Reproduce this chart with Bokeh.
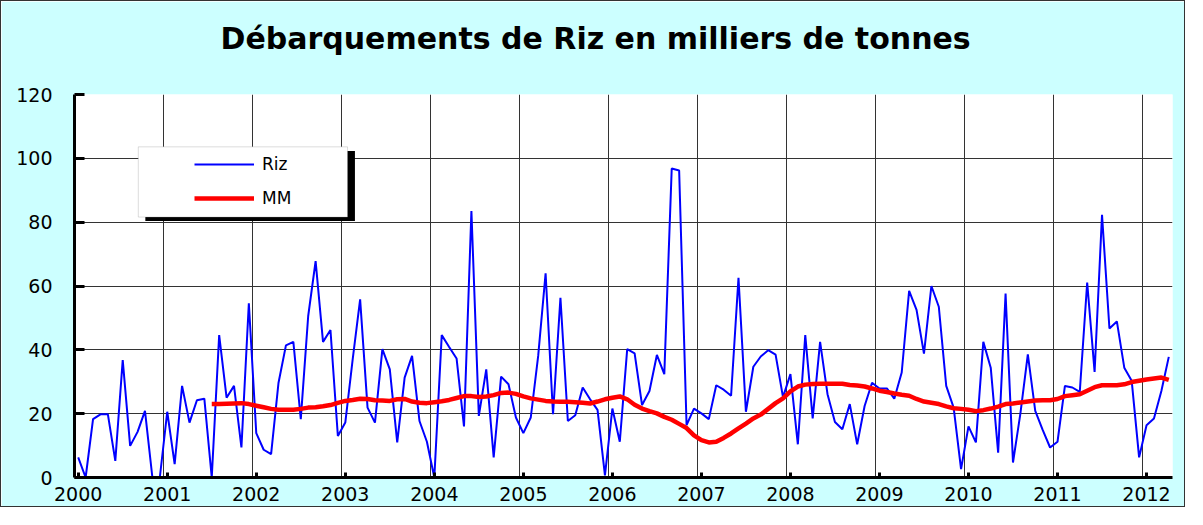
from bokeh.plotting import figure
from bokeh.models import FixedTicker, BoxAnnotation, Legend, LegendItem, Range1d, Title
from bokeh.embed import file_html
from bokeh.resources import INLINE

title_text = "Débarquements de Riz en milliers de tonnes"

years = ["2000", "2001", "2002", "2003", "2004", "2005", "2006",
         "2007", "2008", "2009", "2010", "2011", "2012"]

riz = [
    6.3, 0, 18.3, 19.8, 19.8, 5.2, 36.8, 9.9, 14.3, 20.9, 0, 0,
    20.6, 4.2, 28.7, 17.2, 24.2, 24.7, 0, 44.6, 25.0, 28.7, 9.4, 54.6,
    13.9, 8.7, 7.3, 29.7, 41.4, 42.5, 18.3, 50.6, 67.8, 42.5, 46.2, 13.0,
    17.2, 37.1, 55.8, 21.9, 17.2, 40.2, 33.9, 11.0, 31.3, 38.1, 17.7, 11.2,
    0, 44.6, 40.9, 37.3, 16.0, 83.5, 19.3, 33.9, 6.3, 31.6, 29.2, 18.8,
    13.9, 18.8, 38.1, 64.0, 19.8, 56.3, 17.7, 19.5, 28.2, 24.5, 21.2, 0.7,
    21.6, 11.2, 40.2, 38.9, 22.7, 27.1, 38.4, 32.4, 96.8, 96.2, 16.4, 21.6,
    20.1, 18.3, 28.9, 27.5, 25.6, 62.6, 20.6, 34.7, 37.9, 39.9, 38.5, 25.2,
    32.4, 10.4, 44.6, 18.5, 42.5, 26.1, 17.4, 15.1, 23.0, 10.4, 22.4, 29.7,
    27.9, 27.9, 24.7, 32.9, 58.5, 52.5, 38.8, 60.0, 53.5, 28.7, 21.9, 2.6,
    16.0, 11.0, 42.5, 34.4, 7.8, 57.6, 4.7, 20.1, 38.6, 20.9, 14.9, 9.4,
    11.2, 28.7, 28.2, 26.8, 61.1, 33.1, 82.3, 46.7, 48.9, 34.4, 30.3, 6.3,
    16.4, 18.5, 27.1, 37.8,
]

mm_start = 18
mm = [
    23.0, 23.0, 23.1, 23.2, 23.3, 23.0,
    22.5, 22.0, 21.5, 21.2, 21.2, 21.2, 21.5, 21.9, 22.0, 22.3, 22.7, 23.4,
    24.0, 24.3, 24.7, 24.6, 24.2, 24.1, 24.0, 24.5, 24.6, 23.8, 23.4, 23.3,
    23.6, 23.9, 24.3, 24.9, 25.5, 25.5, 25.2, 25.4, 25.8, 26.5, 26.6, 26.2,
    25.4, 24.8, 24.4, 24.0, 23.8, 23.7, 23.7, 23.6, 23.4, 23.2, 23.8, 24.5,
    25.0, 25.4, 24.5, 22.8, 21.6, 20.8, 20.1, 19.0, 18.1, 16.8, 15.5, 13.2,
    11.7, 11.0, 11.2, 12.4, 13.8, 15.4, 16.9, 18.5, 19.7, 21.5, 23.3, 24.8,
    27.0, 28.5, 29.1, 29.3, 29.4, 29.4, 29.4, 29.4, 29.0, 28.8, 28.5, 27.9,
    27.2, 26.8, 26.3, 25.9, 25.6, 24.6, 23.8, 23.4, 23.0, 22.3, 21.7, 21.5,
    21.2, 20.8, 21.1, 21.6, 22.2, 23.0, 23.2, 23.5, 23.8, 24.1, 24.2, 24.2,
    24.6, 25.5, 25.8, 26.1, 27.2, 28.3, 28.9, 28.9, 28.9, 29.2, 29.9, 30.3,
    30.7, 31.0, 31.3, 30.6,
]

y_ticks = [0, 20, 40, 60, 80, 100, 120]

x_riz = list(range(len(riz)))
x_mm = list(range(mm_start, mm_start + len(mm)))
n = len(riz)

p = figure(width=1185, height=507, output_backend="svg", toolbar_location=None,
           x_range=Range1d(-0.5, n - 0.5), y_range=Range1d(0, 120),
           min_border_left=73, min_border_right=14, min_border_top=93,
           min_border_bottom=31)
p.styles = {"border": "1px solid #333333"}
p.border_fill_color = "#CCFFFF"
p.background_fill_color = "white"
p.outline_line_color = None

# spacer panel between the title and the plot frame
spacer = Title(text=" ", text_font_size="2px", standoff=35)
p.add_layout(spacer, "above")

p.title.text = title_text
p.title.text_font = "DejaVu Sans"
p.title.text_font_style = "bold"
p.title.text_font_size = "30px"
p.title.align = "left"
p.title.offset = 146
p.title.standoff = 0
p.title.text_color = "black"

r_riz = p.line(x_riz, riz, line_color="#0000FF", line_width=2)
r_mm = p.line(x_mm, mm, line_color="#FF0000", line_width=4.5)

# axes
year_pos = [12 * k for k in range(len(years))]
p.xaxis.ticker = FixedTicker(ticks=year_pos)
p.xaxis.major_label_overrides = {12 * k: years[k] for k in range(len(years))}
p.yaxis.ticker = FixedTicker(ticks=y_ticks)
for ax in (p.xaxis[0], p.yaxis[0]):
    ax.axis_line_width = 3
    ax.axis_line_color = "black"
    ax.major_tick_line_color = "black"
    ax.major_tick_line_width = 3
    ax.major_tick_out = 0
    ax.minor_tick_line_color = None
    ax.major_label_text_font = "DejaVu Sans"
    ax.major_label_text_font_size = "19px"
    ax.major_label_text_color = "black"
p.xaxis.major_tick_in = 5
p.yaxis.major_tick_in = 10
p.yaxis.major_label_standoff = 22
p.xaxis.major_label_standoff = 9

p.xgrid.ticker = FixedTicker(ticks=[12 * k - 0.5 for k in range(1, len(years))])
p.ygrid.ticker = FixedTicker(ticks=y_ticks)
for g in (p.xgrid[0], p.ygrid[0]):
    g.grid_line_color = "#333333"
    g.grid_line_width = 1

# legend box with shadow
shadow = BoxAnnotation(left=9.05, right=37.3, bottom=80.4, top=102.3,
                       fill_color="black", fill_alpha=1, line_color=None)
box = BoxAnnotation(left=8.1, right=36.3, bottom=81.6, top=103.6,
                    fill_color="white", fill_alpha=1, line_color="#8a8a8a",
                    line_width=1)
p.add_layout(shadow)
p.add_layout(box)

legend = Legend(items=[LegendItem(label="Riz", renderers=[r_riz]),
                       LegendItem(label="MM", renderers=[r_mm])],
                location=(120, 269), orientation="vertical",
                padding=8, spacing=14, glyph_width=60, glyph_height=20,
                label_height=20, label_standoff=8, margin=0,
                background_fill_alpha=0, border_line_color=None,
                label_text_font="DejaVu Sans", label_text_font_size="17px",
                label_text_color="black")
p.add_layout(legend)

open("out.html", "w").write(file_html(p, INLINE))
